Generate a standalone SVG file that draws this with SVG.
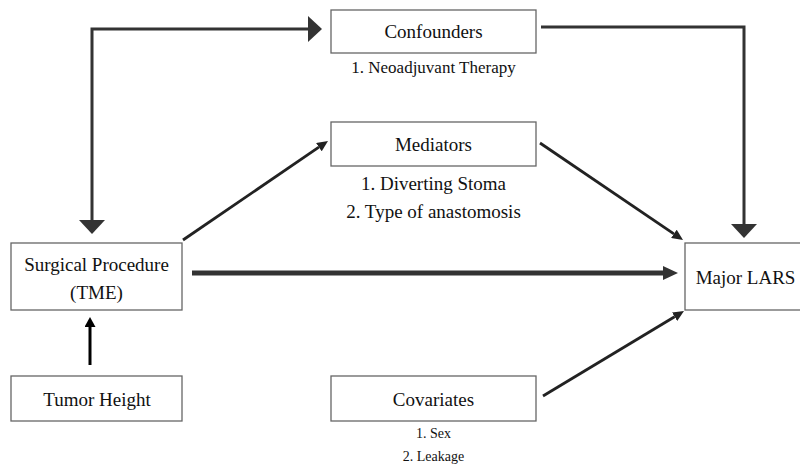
<svg xmlns="http://www.w3.org/2000/svg" width="800" height="466" viewBox="0 0 800 466">
<style>
.box{fill:#fff;stroke:#666;stroke-width:1.3}
.t{font-family:"Liberation Serif","Times New Roman",serif;fill:#111;text-anchor:middle}
.big{font-size:19px}
.mid{font-size:17px}
.sm{font-size:14px}
.c{fill:none;stroke:#333;stroke-width:3}
</style>
<defs>
<marker id="ahBig" viewBox="0 0 14 26" refX="0" refY="13" markerWidth="14" markerHeight="26" markerUnits="userSpaceOnUse" orient="auto-start-reverse"><path d="M0,0 L14,13 L0,26 z" fill="#333"/></marker>
<marker id="ahThick" viewBox="0 0 15 14" refX="0" refY="7" markerWidth="15" markerHeight="14" markerUnits="userSpaceOnUse" orient="auto"><path d="M0,0 L15,7 L0,14 z" fill="#333"/></marker>
<marker id="ahSm" viewBox="0 0 11 10" refX="0" refY="5" markerWidth="11" markerHeight="10" markerUnits="userSpaceOnUse" orient="auto"><path d="M0,0 L11,5 L0,10 z" fill="#222"/></marker>
<marker id="ahBlk" viewBox="0 0 10 11" refX="0" refY="5.5" markerWidth="10" markerHeight="11" markerUnits="userSpaceOnUse" orient="auto"><path d="M0,0 L10,5.5 L0,11 z" fill="#000"/></marker>
</defs>
<g id="connectors">
<path class="c" d="M92,220 L92,29 L308,29" marker-start="url(#ahBig)" marker-end="url(#ahBig)"/>
<path class="c" d="M541,27 L744,27 L744,224" marker-end="url(#ahBig)"/>
<path class="c" style="stroke-width:5" d="M192,273 L663,273" marker-end="url(#ahThick)"/>
<path class="c" style="stroke:#222;stroke-width:2.8" d="M183,240 L318.9,147.2" marker-end="url(#ahSm)"/>
<path class="c" style="stroke:#222;stroke-width:2.8" d="M540,143 L673.9,233.8" marker-end="url(#ahSm)"/>
<path class="c" style="stroke:#222;stroke-width:2.8" d="M543,396 L674.6,316.7" marker-end="url(#ahSm)"/>
<path class="c" style="stroke:#000;stroke-width:3" d="M90,365 L90,327" marker-end="url(#ahBlk)"/>
</g>
<g id="confounders">
<rect class="box" x="331" y="10" width="205" height="43"/>
<text class="t big" x="433.5" y="38">Confounders</text>
<text class="t mid" x="433.5" y="73">1. Neoadjuvant Therapy</text>
</g>
<g id="mediators">
<rect class="box" x="331" y="122" width="205" height="44"/>
<text class="t big" x="433.5" y="151">Mediators</text>
<text class="t big" x="433.5" y="190">1. Diverting Stoma</text>
<text class="t big" x="433.5" y="218">2. Type of anastomosis</text>
</g>
<g id="surgical">
<rect class="box" x="11" y="243" width="171" height="67"/>
<text class="t big" x="96.5" y="271">Surgical Procedure</text>
<text class="t big" x="96.5" y="299">(TME)</text>
</g>
<g id="tumor">
<rect class="box" x="11" y="376" width="171" height="45"/>
<text class="t big" x="97" y="406">Tumor Height</text>
</g>
<g id="covariates">
<rect class="box" x="331" y="376" width="205" height="45"/>
<text class="t big" x="433.5" y="406">Covariates</text>
<text class="t sm" x="433.5" y="438">1. Sex</text>
<text class="t sm" x="433.5" y="461">2. Leakage</text>
</g>
<g id="major-lars">
<rect class="box" x="685" y="243" width="125" height="67"/>
<text class="t big" x="745.5" y="284">Major LARS</text>
</g>
</svg>
